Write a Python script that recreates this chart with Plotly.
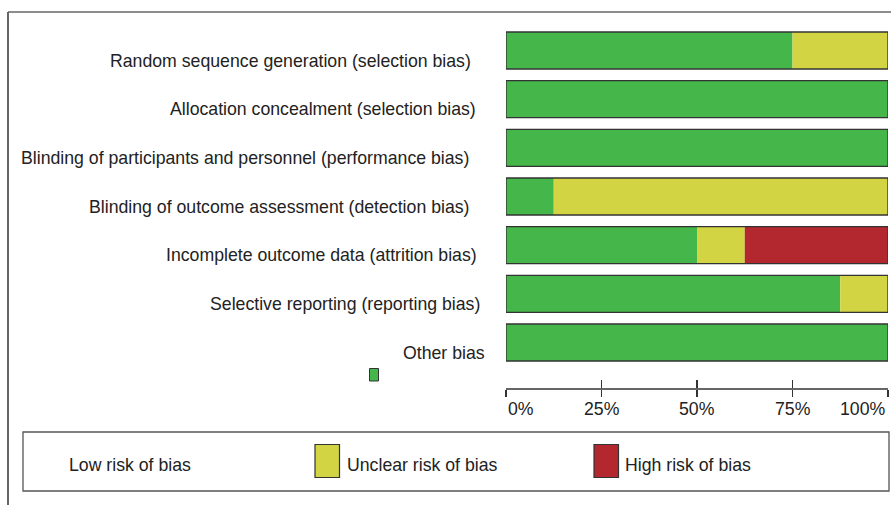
import plotly.graph_objects as go

# ---- data ----
domains = [
    "Random sequence generation (selection bias)",
    "Allocation concealment (selection bias)",
    "Blinding of participants and personnel (performance bias)",
    "Blinding of outcome assessment (detection bias)",
    "Incomplete outcome data (attrition bias)",
    "Selective reporting (reporting bias)",
    "Other bias",
]
low_risk = [75, 100, 100, 12.5, 50, 87.5, 100]
unclear_risk = [25, 0, 0, 87.5, 12.5, 12.5, 0]
high_risk = [0, 0, 0, 0, 37.5, 0, 0]
series_names = ["Low risk of bias", "Unclear risk of bias", "High risk of bias"]
series_colors = ["#45b649", "#d2d444", "#b3282f"]
tick_values = [0, 25, 50, 75, 100]
tick_labels = ["0%", "25%", "50%", "75%", "100%"]

# ---- geometry helpers (pixel -> paper) ----
W, H = 891, 505
L, R, T, B = 506, 3, 20, 117
PW, PH = W - L - R, H - T - B


def px(x):
    return (x - L) / PW


def py(y):
    return (H - B - y) / PH


FONT = "Liberation Sans, Arial, sans-serif"
TXT = "#222222"
FS = 17.7

fig = go.Figure()

bases = [
    [0] * len(domains),
    low_risk,
    [a + b for a, b in zip(low_risk, unclear_risk)],
]
for name, vals, base, col in zip(series_names, [low_risk, unclear_risk, high_risk], bases, series_colors):
    fig.add_trace(go.Bar(
        y=domains, x=vals, base=base, orientation="h", name=name,
        marker=dict(color=col, line=dict(width=0)), width=0.76, showlegend=False,
        hoverinfo="skip",
    ))

# bar outline
totals = [a + b + c for a, b, c in zip(low_risk, unclear_risk, high_risk)]
fig.add_trace(go.Bar(
    y=domains, x=totals, base=[0] * len(domains), orientation="h",
    marker=dict(color="rgba(0,0,0,0)", line=dict(width=1.3, color="#333333")),
    width=0.76, showlegend=False, hoverinfo="skip",
))
# dummy trace for second x axis (inside ticks)
fig.add_trace(go.Scatter(x=[0, 100], y=[domains[0], domains[0]], xaxis="x2", mode="lines",
                         line=dict(width=0), showlegend=False, hoverinfo="skip"))

fig.update_layout(
    width=W, height=H, autosize=False,
    margin=dict(l=L, r=R, t=T, b=B, pad=0),
    paper_bgcolor="white", plot_bgcolor="white",
    barmode="overlay",
    font=dict(family=FONT, size=FS, color=TXT),
    xaxis=dict(range=[0, 100], tickvals=tick_values, showticklabels=False,
               ticks="outside", ticklen=7, tickwidth=1.3, tickcolor="#333",
               showline=True, linecolor="#666", linewidth=1.5,
               showgrid=False, zeroline=False, fixedrange=True),
    xaxis2=dict(range=[0, 100], overlaying="x", side="bottom", anchor="y",
                tickvals=tick_values, showticklabels=False,
                ticks="inside", ticklen=8, tickwidth=1.3, tickcolor="#333",
                showline=False, showgrid=False, zeroline=False),
    yaxis=dict(type="category", categoryorder="array", categoryarray=domains,
               range=[6.935, -0.627], showticklabels=False, showgrid=False,
               zeroline=False, showline=False, ticks=""),
)

annotations = []
# y labels (right edges as in the reference)
label_right = [473, 478, 471, 471, 479, 482, 487]
for i, (d, rx) in enumerate(zip(domains, label_right)):
    annotations.append(dict(text=d, xref="paper", yref="y", x=px(rx), y=d,
                            xanchor="right", yanchor="middle", yshift=-10,
                            showarrow=False, font=dict(size=FS, color=TXT, family=FONT)))
# x tick labels
anchors = ["left", "center", "center", "center", "right"]
for v, t, a in zip(tick_values, tick_labels, anchors):
    annotations.append(dict(text=t, xref="x", yref="paper", x=v, y=py(409),
                            xanchor=a, yanchor="middle", showarrow=False,
                            font=dict(size=FS, color=TXT, family=FONT)))

shapes = []
# outer frame (left and top)
shapes.append(dict(type="line", xref="paper", yref="paper", x0=px(8), x1=px(8), y0=py(12), y1=py(506),
                   line=dict(color="#333", width=1.5)))
shapes.append(dict(type="line", xref="paper", yref="paper", x0=px(8), x1=px(892), y0=py(12), y1=py(12),
                   line=dict(color="#666", width=1.5)))
# legend box
shapes.append(dict(type="rect", xref="paper", yref="paper", x0=px(23), x1=px(889), y0=py(491), y1=py(432),
                   line=dict(color="#555", width=1.3), fillcolor="rgba(0,0,0,0)"))
# stray low-risk swatch
shapes.append(dict(type="rect", xref="paper", yref="paper", x0=px(369.5), x1=px(378.5), y0=py(381), y1=py(368.5),
                   line=dict(color="#333", width=1), fillcolor=series_colors[0]))
# legend swatches
swatch_x = [None, 315, 594]
text_x = [67, 345, 623]
for name, col, sx, tx in zip(series_names, series_colors, swatch_x, text_x):
    if sx is not None:
        shapes.append(dict(type="rect", xref="paper", yref="paper", x0=px(sx), x1=px(sx + 24.5),
                           y0=py(477.5), y1=py(444.5), line=dict(color="#333", width=1.2), fillcolor=col))
    annotations.append(dict(text=name, xref="paper", yref="paper", x=px(tx), y=py(465),
                            xanchor="left", yanchor="middle", showarrow=False,
                            font=dict(size=FS, color=TXT, family=FONT)))

fig.update_layout(annotations=annotations, shapes=shapes)
fig.write_html("out.html", config={"displayModeBar": False, "staticPlot": True},
               post_script="document.body.style.margin='0';document.body.style.padding='0';"
                           "document.documentElement.style.overflow='hidden';")
